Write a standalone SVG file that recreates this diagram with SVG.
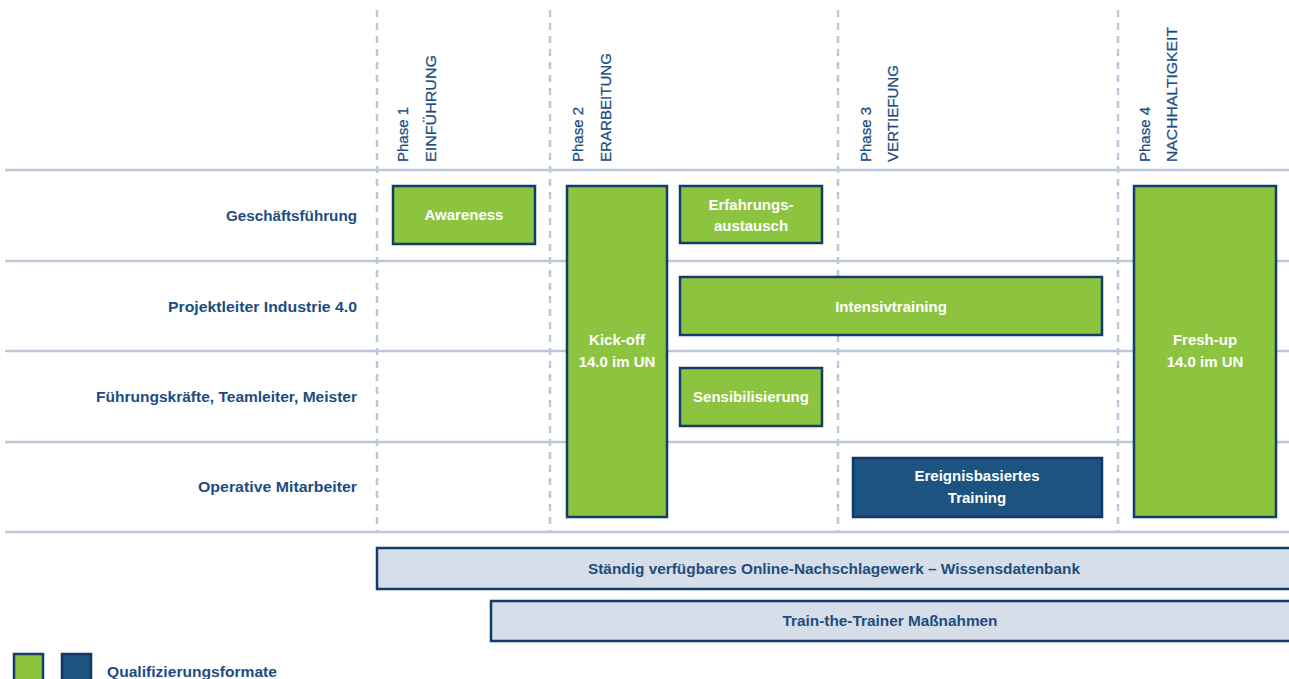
<svg xmlns="http://www.w3.org/2000/svg" width="1289" height="679" viewBox="0 0 1289 679">
<style>
.grid{stroke:#bcc7da;stroke-width:2.5;fill:none}
.dash{stroke:#bcc7da;stroke-width:2.5;stroke-dasharray:7 6;fill:none}
.phase{font-family:"Liberation Sans",Arial,sans-serif;font-size:15.5px;fill:#1d4d7f;stroke:#1d4d7f;stroke-width:0.25}
.row{font-family:"Liberation Sans",Arial,sans-serif;font-size:14px;font-weight:bold;fill:#1d4d7f;text-anchor:end}
.g{fill:#8dc43f;stroke:#123d6b;stroke-width:2.5}
.b{fill:#1c5380;stroke:#0f3a66;stroke-width:2.5}
.l{fill:#d6dee9;stroke:#123d6b;stroke-width:2.5}
.wt{font-family:"Liberation Sans",Arial,sans-serif;font-size:15px;font-weight:bold;fill:#ffffff;text-anchor:middle}
.dt{font-family:"Liberation Sans",Arial,sans-serif;font-size:14px;font-weight:bold;fill:#1d4d7f;text-anchor:middle}
</style>
<rect width="1289" height="679" fill="#ffffff"/>
<g id="grid">
<line class="grid" x1="5" y1="170" x2="1289" y2="170"/>
<line class="grid" x1="5" y1="261" x2="1289" y2="261"/>
<line class="grid" x1="5" y1="351" x2="1289" y2="351"/>
<line class="grid" x1="5" y1="442" x2="1289" y2="442"/>
<line class="grid" x1="5" y1="532" x2="1289" y2="532"/>
<line class="dash" x1="377" y1="10" x2="377" y2="532"/>
<line class="dash" x1="550" y1="10" x2="550" y2="532"/>
<line class="dash" x1="838" y1="10" x2="838" y2="532"/>
<line class="dash" x1="1118" y1="10" x2="1118" y2="532"/>
</g>
<g id="phases">
<text class="phase" transform="translate(408,162) rotate(-90)" textLength="55" lengthAdjust="spacingAndGlyphs">Phase  1</text>
<text class="phase" transform="translate(436,162) rotate(-90)" textLength="107" lengthAdjust="spacingAndGlyphs">EINFÜHRUNG</text>
<text class="phase" transform="translate(583,162) rotate(-90)" textLength="55" lengthAdjust="spacingAndGlyphs">Phase  2</text>
<text class="phase" transform="translate(611,162) rotate(-90)" textLength="109" lengthAdjust="spacingAndGlyphs">ERARBEITUNG</text>
<text class="phase" transform="translate(871,162) rotate(-90)" textLength="55" lengthAdjust="spacingAndGlyphs">Phase  3</text>
<text class="phase" transform="translate(898,162) rotate(-90)" textLength="97" lengthAdjust="spacingAndGlyphs">VERTIEFUNG</text>
<text class="phase" transform="translate(1150,162) rotate(-90)" textLength="55" lengthAdjust="spacingAndGlyphs">Phase  4</text>
<text class="phase" transform="translate(1177,162) rotate(-90)" textLength="135" lengthAdjust="spacingAndGlyphs">NACHHALTIGKEIT</text>
</g>
<g id="rows">
<text class="row" x="357" y="221" textLength="131" lengthAdjust="spacingAndGlyphs">Geschäftsführung</text>
<text class="row" x="357" y="312" textLength="189" lengthAdjust="spacingAndGlyphs">Projektleiter Industrie 4.0</text>
<text class="row" x="357" y="402" textLength="261" lengthAdjust="spacingAndGlyphs">Führungskräfte, Teamleiter, Meister</text>
<text class="row" x="357" y="492" textLength="159" lengthAdjust="spacingAndGlyphs">Operative Mitarbeiter</text>
</g>
<g id="awareness">
<rect class="g" x="393" y="186" width="142" height="58"/>
<text class="wt" x="464" y="220">Awareness</text>
</g>
<g id="kickoff">
<rect class="g" x="567" y="186" width="100" height="331"/>
<text class="wt" x="617" y="345">Kick-off</text>
<text class="wt" x="617" y="367">14.0 im UN</text>
</g>
<g id="erfahrung">
<rect class="g" x="680" y="186" width="142" height="57"/>
<text class="wt" x="751" y="210">Erfahrungs-</text>
<text class="wt" x="751" y="231">austausch</text>
</g>
<g id="intensiv">
<rect class="g" x="680" y="277" width="422" height="58"/>
<text class="wt" x="891" y="312">Intensivtraining</text>
</g>
<g id="sensibilisierung">
<rect class="g" x="680" y="368" width="142" height="58"/>
<text class="wt" x="751" y="402">Sensibilisierung</text>
</g>
<g id="ereignis">
<rect class="b" x="853" y="458" width="249" height="59"/>
<text class="wt" x="977" y="481">Ereignisbasiertes</text>
<text class="wt" x="977" y="503">Training</text>
</g>
<g id="freshup">
<rect class="g" x="1134" y="186" width="142" height="331"/>
<text class="wt" x="1205" y="345">Fresh-up</text>
<text class="wt" x="1205" y="367">14.0 im UN</text>
</g>
<g id="online">
<rect class="l" x="377" y="548" width="920" height="41"/>
<text class="dt" x="834" y="574" textLength="492" lengthAdjust="spacingAndGlyphs">Ständig verfügbares Online-Nachschlagewerk – Wissensdatenbank</text>
</g>
<g id="trainer">
<rect class="l" x="491" y="601" width="806" height="40"/>
<text class="dt" x="890" y="626" textLength="215" lengthAdjust="spacingAndGlyphs">Train-the-Trainer Maßnahmen</text>
</g>
<g id="legend">
<rect class="g" x="14" y="654" width="29" height="30"/>
<rect class="b" x="62" y="654" width="29" height="30"/>
<text class="row" x="107" y="677" style="text-anchor:start" textLength="170" lengthAdjust="spacingAndGlyphs">Qualifizierungsformate</text>
</g>
</svg>
